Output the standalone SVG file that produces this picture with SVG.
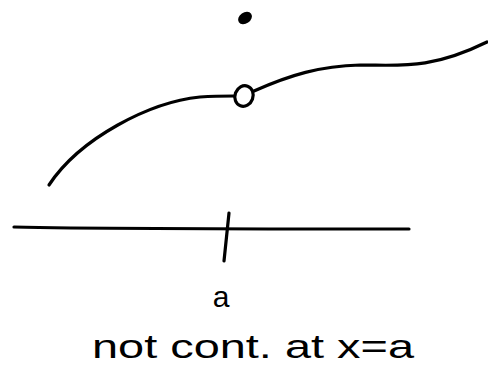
<svg xmlns="http://www.w3.org/2000/svg" width="488" height="368" viewBox="0 0 488 368">
<style>
.ink{fill:none;stroke:#000;stroke-width:3.2;stroke-linecap:round;stroke-linejoin:round}
.txt{font-family:"Liberation Sans","DejaVu Sans",sans-serif;fill:#000}
</style>
<rect width="488" height="368" fill="#fff"/>
<g id="connectors">
<path id="curve-left" class="ink" d="M49,185 C80,138 150,102 200,97 C215,96 228,96 234,96"/>
<path id="curve-right" class="ink" d="M254,91 C290,75 320,66 360,65 C400,65 430,70 487,42"/>
<path id="axis" class="ink" d="M14,227 C100,229 300,229 409,229"/>
<path id="tick" class="ink" d="M229,213 L224,261"/>
</g>
<g id="open-point">
<ellipse class="ink" cx="244" cy="96" rx="9" ry="10.5" transform="rotate(20 244 96)"/>
</g>
<g id="filled-point">
<ellipse cx="245" cy="18" rx="7.5" ry="5.5" transform="rotate(-35 245 18)" fill="#000"/>
</g>
<g id="label-a">
<text class="txt" x="221" y="307" font-size="30" text-anchor="middle">a</text>
</g>
<g id="caption">
<text class="txt" x="92" y="358" font-size="34" textLength="322" lengthAdjust="spacingAndGlyphs">not cont. at x=a</text>
</g>
</svg>
